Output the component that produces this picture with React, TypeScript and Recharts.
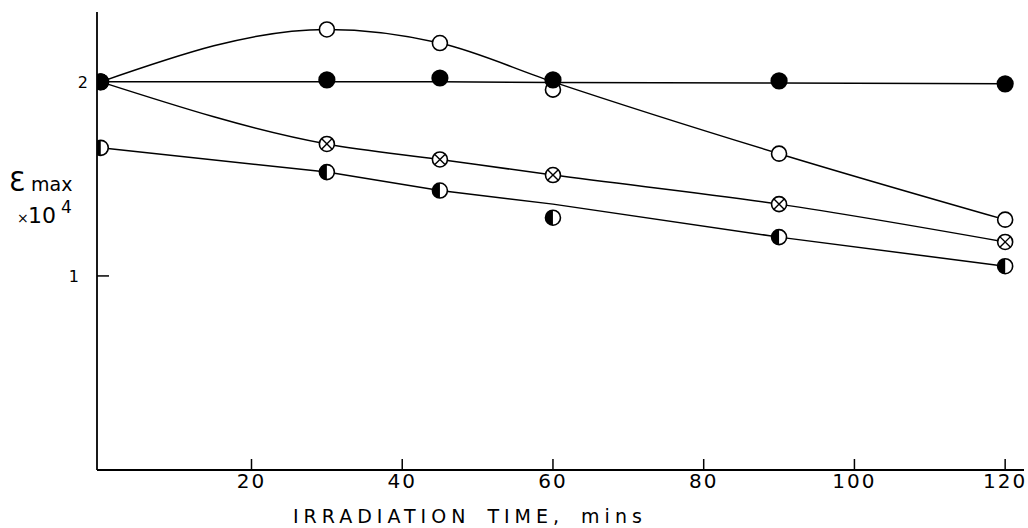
import React from "react";
import { ComposedChart, Line, XAxis, YAxis, Label } from "recharts";

// Irradiation time (mins)
const times = [0, 30, 45, 60, 90, 120];
// Measured points (εmax × 10^4)
const openCircle = [2.0, 2.27, 2.2, 1.96, 1.63, 1.29];
const filledCircle = [2.0, 2.01, 2.02, 2.01, 2.005, 1.99];
const crossedCircle = [2.0, 1.68, 1.6, 1.52, 1.37, 1.175];
const halfCircle = [1.66, 1.535, 1.44, 1.3, 1.2, 1.05];
// Drawn curves through the points
const openCurve = [2.0, 2.27, 2.2, 2.0, 1.63, 1.29];
const filledCurve = [2.0, 2.0, 2.0, 1.997, 1.994, 1.99];
const crossedCurve = [2.0, 1.68, 1.6, 1.52, 1.37, 1.175];
const halfCurve = [1.66, 1.535, 1.44, 1.37, 1.2, 1.05];
// Tick labels
const xTicks = [20, 40, 60, 80, 100, 120];
const yTicks = [1, 2];

const data = times.map((t, i) => ({
  t,
  openPt: openCircle[i],
  filledPt: filledCircle[i],
  crossedPt: crossedCircle[i],
  halfPt: halfCircle[i],
  openFit: openCurve[i],
  filledFit: filledCurve[i],
  crossedFit: crossedCurve[i],
  halfFit: halfCurve[i],
}));

const FONT = "'DejaVu Sans', sans-serif";
const INK = "#000";

const OpenDot = (p: any) => (
  <circle key={`o-${p.index}`} cx={p.cx} cy={p.cy} r={7.5} fill="#fff" stroke={INK} strokeWidth={1.6} />
);
const FilledDot = (p: any) => (
  <circle key={`f-${p.index}`} cx={p.cx} cy={p.cy} r={8.6} fill={INK} stroke="none" />
);
const CrossedDot = (p: any) => {
  const r = 7.5;
  const d = r * 0.68;
  return (
    <g key={`c-${p.index}`}>
      <circle cx={p.cx} cy={p.cy} r={r} fill="#fff" stroke={INK} strokeWidth={1.6} />
      <line x1={p.cx - d} y1={p.cy - d} x2={p.cx + d} y2={p.cy + d} stroke={INK} strokeWidth={1.4} />
      <line x1={p.cx - d} y1={p.cy + d} x2={p.cx + d} y2={p.cy - d} stroke={INK} strokeWidth={1.4} />
    </g>
  );
};
const HalfDot = (p: any) => {
  const r = 7.5;
  return (
    <g key={`h-${p.index}`}>
      <circle cx={p.cx} cy={p.cy} r={r} fill="#fff" stroke={INK} strokeWidth={1.6} />
      <path d={`M ${p.cx} ${p.cy - r} A ${r} ${r} 0 0 0 ${p.cx} ${p.cy + r} Z`} fill={INK} />
    </g>
  );
};

const XTick = (p: any) => (
  <g>
    <line x1={p.x} y1={p.y} x2={p.x} y2={p.y - 11} stroke={INK} strokeWidth={1.5} />
    <text x={p.x} y={p.y + 18} textAnchor="middle" fontSize={20} letterSpacing={2} fontFamily={FONT} fill={INK}>
      {p.payload.value}
    </text>
  </g>
);

const YTick = (p: any) => (
  <g>
    {p.payload.value === 1 && (
      <line x1={p.x} y1={p.y} x2={p.x + 12} y2={p.y} stroke={INK} strokeWidth={1.5} />
    )}
    <text x={p.x - (p.payload.value === 1 ? 18 : 9)} y={p.y + 6} textAnchor="end" fontSize={16} fontFamily={FONT} fill={INK}>
      {p.payload.value}
    </text>
  </g>
);

const XTitle = () => (
  <text x={293} y={523} textAnchor="start" fontSize={19} letterSpacing={5} wordSpacing={6} fontFamily={FONT} fill={INK}>
    IRRADIATION TIME, mins
  </text>
);

const YTitle = () => (
  <g fontFamily={FONT} fill={INK}>
    <text x={9} y={191} fontSize={26}>Ɛ</text>
    <text x={31} y={191} fontSize={19}>max</text>
    <text x={17} y={223} fontSize={14}>×</text>
    <text x={28} y={223} fontSize={22}>10</text>
    <text x={61} y={213} fontSize={17}>4</text>
  </g>
);

export default function App() {
  return (
    <div style={{ position: "absolute", left: 0, top: 0, width: 1028, height: 528, background: "#fff" }}>
      <ComposedChart width={1028} height={528} data={data} margin={{ top: 12, right: 4, bottom: 8, left: 37 }}>
        <XAxis
          type="number"
          dataKey="t"
          domain={[-0.5, 122.5]}
          ticks={xTicks}
          allowDataOverflow
          height={50}
          tickSize={0}
          tickMargin={0}
          tickLine={false}
          axisLine={{ stroke: INK, strokeWidth: 1.8 }}
          tick={XTick}
        >
          <Label content={XTitle} />
        </XAxis>
        <YAxis
          type="number"
          domain={[0, 2.36]}
          ticks={yTicks}
          allowDataOverflow
          width={60}
          tickSize={0}
          tickMargin={0}
          tickLine={false}
          axisLine={{ stroke: INK, strokeWidth: 1.8 }}
          tick={YTick}
        >
          <Label content={YTitle} />
        </YAxis>
        <Line type="monotone" dataKey="openFit" stroke={INK} strokeWidth={1.5} dot={false} activeDot={false} isAnimationActive={false} />
        <Line type="linear" dataKey="filledFit" stroke={INK} strokeWidth={1.5} dot={false} activeDot={false} isAnimationActive={false} />
        <Line type="monotone" dataKey="crossedFit" stroke={INK} strokeWidth={1.5} dot={false} activeDot={false} isAnimationActive={false} />
        <Line type="linear" dataKey="halfFit" stroke={INK} strokeWidth={1.5} dot={false} activeDot={false} isAnimationActive={false} />
        <Line dataKey="openPt" stroke="none" dot={OpenDot} activeDot={false} isAnimationActive={false} />
        <Line dataKey="crossedPt" stroke="none" dot={CrossedDot} activeDot={false} isAnimationActive={false} />
        <Line dataKey="halfPt" stroke="none" dot={HalfDot} activeDot={false} isAnimationActive={false} />
        <Line dataKey="filledPt" stroke="none" dot={FilledDot} activeDot={false} isAnimationActive={false} />
      </ComposedChart>
    </div>
  );
}
